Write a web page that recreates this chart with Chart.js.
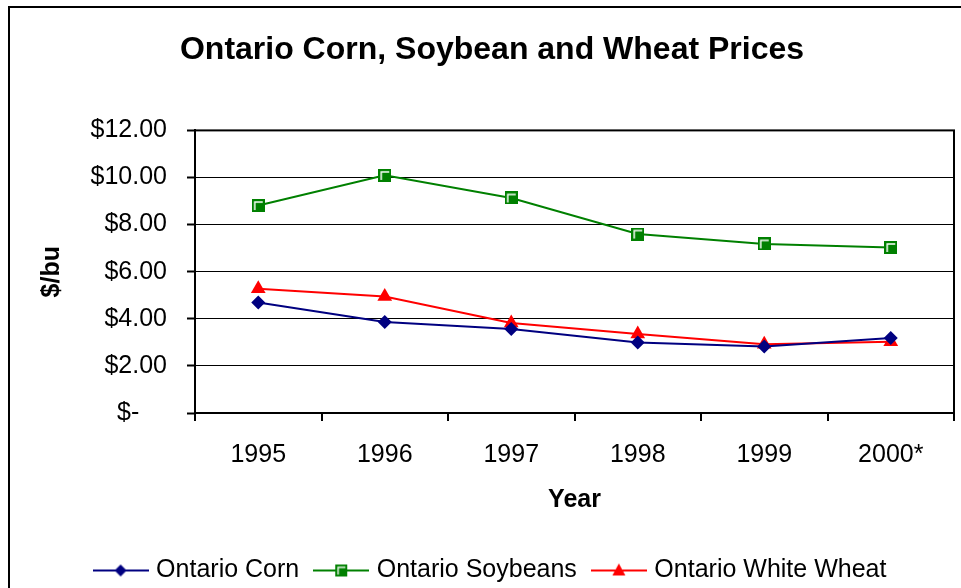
<!DOCTYPE html>
<html><head><meta charset="utf-8">
<script src="https://cdn.jsdelivr.net/npm/chart.js@4/dist/chart.umd.min.js"></script>
<style>
html,body{margin:0;padding:0;background:#fff;overflow:hidden;width:961px;height:588px;}
#frame{position:absolute;left:8px;top:6px;width:1000px;height:1000px;border-left:2px solid #000;border-top:2px solid #000;}
#wrap{position:absolute;left:0;top:0;width:984px;height:600px;}
</style></head><body>
<div id="frame"></div>
<div id="wrap"><canvas id="c" width="984" height="600"></canvas></div>
<script>
const categories = ['1995', '1996', '1997', '1998', '1999', '2000*'];
const cornPrices = [4.69, 3.86, 3.57, 2.99, 2.82, 3.18];
const soybeanPrices = [8.81, 10.09, 9.13, 7.60, 7.18, 7.03];
const wheatPrices = [5.28, 4.95, 3.82, 3.35, 2.92, 3.03];
const yTicks = [0, 2, 4, 6, 8, 10, 12];

const FAMILY = "'Liberation Sans', Arial, sans-serif";
const NAVY = '#000080', GREEN = '#008000', RED = '#FF0000';

function squareMarker() {
  const c = document.createElement('canvas');
  c.width = 13; c.height = 13;
  const g = c.getContext('2d');
  g.fillStyle = GREEN; g.fillRect(0, 0, 13, 13);
  g.strokeStyle = '#fff'; g.lineWidth = 1.5;
  g.beginPath(); g.moveTo(3, 11); g.lineTo(3, 3); g.lineTo(11, 3); g.stroke();
  return c;
}
const sq = squareMarker();

function legendIcon(color, kind) {
  const c = document.createElement('canvas');
  c.width = 56; c.height = 22;
  const g = c.getContext('2d');
  g.strokeStyle = color; g.lineWidth = 2;
  g.beginPath(); g.moveTo(0, 11); g.lineTo(56, 11); g.stroke();
  g.fillStyle = color;
  if (kind === 'diamond') {
    g.beginPath(); g.moveTo(28, 5); g.lineTo(34, 11); g.lineTo(28, 17); g.lineTo(22, 11); g.closePath(); g.fill();
  } else if (kind === 'square') {
    g.drawImage(sq, 22, 5, 12, 12);
  } else {
    g.beginPath(); g.moveTo(28, 4); g.lineTo(34.5, 16); g.lineTo(21.5, 16); g.closePath(); g.fill();
  }
  return c;
}
const legendIcons = [legendIcon(NAVY, 'diamond'), legendIcon(GREEN, 'square'), legendIcon(RED, 'triangle')];

const framePlugin = {
  id: 'frame',
  beforeDatasetsDraw(chart) {
    const {ctx, chartArea: a} = chart;
    ctx.save();
    ctx.strokeStyle = '#000'; ctx.lineWidth = 2;
    ctx.strokeRect(a.left, a.top, a.right - a.left, a.bottom - a.top);
    ctx.restore();
  }
};

new Chart(document.getElementById('c'), {
  type: 'line',
  data: {
    labels: categories,
    datasets: [
      {label: 'Ontario Corn', data: cornPrices, borderColor: NAVY, backgroundColor: NAVY, borderWidth: 2,
       pointStyle: 'rectRot', pointRadius: 7, pointBorderWidth: 0, tension: 0},
      {label: 'Ontario Soybeans', data: soybeanPrices, borderColor: GREEN, backgroundColor: GREEN, borderWidth: 2,
       pointStyle: sq, pointRadius: 7, tension: 0},
      {label: 'Ontario White Wheat', data: wheatPrices, borderColor: RED, backgroundColor: RED, borderWidth: 2,
       pointStyle: 'triangle', pointRadius: 8.5, pointBorderWidth: 0, tension: 0}
    ]
  },
  options: {
    responsive: false,
    animation: false,
    devicePixelRatio: 1,
    layout: {padding: {left: 30, right: 30, top: 0, bottom: 7}},
    plugins: {
      title: {display: true, text: 'Ontario Corn, Soybean and Wheat Prices', color: '#000',
              font: {family: FAMILY, size: 32, weight: 'bold'}, padding: {top: 31, bottom: 61}},
      legend: {
        position: 'bottom',
        labels: {
          usePointStyle: true, pointStyleWidth: 46, padding: 19, color: '#000',
          font: {family: FAMILY, size: 25},
          generateLabels(chart) {
            return chart.data.datasets.map((ds, i) => ({
              text: ds.label, pointStyle: legendIcons[i], fillStyle: ds.borderColor,
              strokeStyle: ds.borderColor, lineWidth: 0, hidden: false, datasetIndex: i, fontColor: '#000'
            }));
          }
        }
      },
      tooltip: {enabled: false}
    },
    scales: {
      x: {
        type: 'category', offset: true,
        grid: {display: true, drawOnChartArea: false, offset: true, color: '#000', lineWidth: 2, tickLength: 8},
        border: {display: true, color: '#000', width: 2},
        ticks: {color: '#000', font: {family: FAMILY, size: 25}, padding: 19, maxRotation: 0},
        title: {display: true, text: 'Year', color: '#000', font: {family: FAMILY, size: 25, weight: 'bold'},
                padding: {top: 0, bottom: 24}},
        afterFit(s) { s.height = 126; }
      },
      y: {
        min: 0, max: 12,
        afterBuildTicks(s) { s.ticks = yTicks.map(v => ({value: v})); },
        ticks: {color: '#000', font: {family: FAMILY, size: 25}, padding: 20,
                callback: v => v === 0 ? '$-    ' : '$' + Number(v).toFixed(2)},
        grid: {color: '#000', lineWidth: 1, tickLength: 8, tickWidth: 2, tickColor: '#000'},
        border: {color: '#000', width: 2},
        title: {display: true, text: '$/bu', color: '#000', font: {family: FAMILY, size: 25, weight: 'bold'},
                padding: {top: 7, bottom: 0}},
        afterFit(s) { s.width = 165; }
      }
    }
  },
  plugins: [framePlugin]
});
</script>
</body></html>
